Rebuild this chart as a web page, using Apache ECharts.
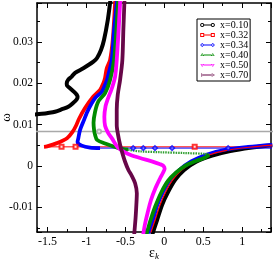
<!DOCTYPE html>
<html><head><meta charset="utf-8">
<script src="https://cdn.jsdelivr.net/npm/echarts@6/dist/echarts.min.js"></script>
<style>html,body{margin:0;padding:0;background:#fff}#c{width:275px;height:260px}</style>
</head><body><div id="c"></div>
<script>
const legendNames = ['x=0.10','x=0.32','x=0.34','x=0.40','x=0.50','x=0.70'];
const xTickRange = [-1.635, 1.37];
const yTickRange = [-0.016, 0.0394];

// x = 0.10
const x010Upper = [[-0.684,0.0414],[-0.697,0.0394],[-0.726,0.0353],[-0.774,0.0305],[-0.812,0.0281],[-0.864,0.0261],[-0.911,0.0252],[-1.040,0.0236],[-1.146,0.0225],[-1.189,0.0216],[-1.236,0.0208],[-1.253,0.0200],[-1.249,0.0194],[-1.211,0.0188],[-1.159,0.0179],[-1.125,0.0172],[-1.114,0.0167],[-1.125,0.0161],[-1.172,0.0152],[-1.233,0.0143],[-1.314,0.0137],[-1.404,0.0131],[-1.494,0.0128],[-1.574,0.0126],[-1.673,0.0124]];
const x010Lower = [[-0.157,-0.0169],[-0.144,-0.0160],[-0.093,-0.0131],[-0.028,-0.0094],[0.049,-0.0063],[0.139,-0.0034],[0.254,-0.0010],[0.409,0.0010],[0.614,0.0025],[0.846,0.0036],[1.103,0.0044],[1.386,0.0050]];
const x010Flat = [[-1.70,0.0083],[1.45,0.0083]];
const x010Marks = [[-0.838,0.0083]];

// x = 0.32
const x032Upper = [[-0.626,0.0414],[-0.632,0.0394],[-0.662,0.0305],[-0.697,0.0256],[-0.739,0.0236],[-0.761,0.0213],[-0.783,0.0200],[-0.825,0.0184],[-0.911,0.0168],[-1.018,0.0140],[-1.095,0.0114],[-1.134,0.0097],[-1.179,0.0082],[-1.249,0.0067],[-1.378,0.0055],[-1.506,0.0047],[-1.545,0.0046]];
const x032Flat = [[-1.545,0.0046],[1.45,0.0046]];
const x032Marks = [[-1.32,0.0046],[-1.14,0.0046],[0.39,0.0046]];
const x032Lower = [[-0.183,-0.0169],[-0.170,-0.0160],[-0.118,-0.0131],[-0.054,-0.0094],[0.017,-0.0063],[0.107,-0.0034],[0.222,-0.0010],[0.377,0.0010],[0.582,0.0027],[0.814,0.0038],[1.090,0.0045],[1.386,0.0050]];

// x = 0.34
const x034Upper = [[-0.607,0.0414],[-0.611,0.0394],[-0.645,0.0329],[-0.675,0.0256],[-0.710,0.0227],[-0.735,0.0208],[-0.752,0.0200],[-0.803,0.0179],[-0.889,0.0164],[-0.976,0.0136],[-1.040,0.0107],[-1.082,0.0087],[-1.104,0.0067],[-1.114,0.0058],[-1.060,0.0049],[-0.954,0.0044],[-0.825,0.0043]];
const x034Flat = [[-0.825,0.0043],[1.45,0.0043]];
const x034Marks = [[-0.40,0.0043],[-0.27,0.0043],[-0.12,0.0043],[0.10,0.0043],[0.82,0.0043]];
const x034Lower = [[-0.208,-0.0169],[-0.195,-0.0160],[-0.144,-0.0131],[-0.086,-0.0094],[-0.015,-0.0063],[0.075,-0.0034],[0.190,-0.0010],[0.344,0.0011],[0.550,0.0028],[0.781,0.0039],[1.077,0.0046],[1.386,0.0051]];

// x = 0.40
const x040Upper = [[-0.587,0.0414],[-0.594,0.0394],[-0.616,0.0329],[-0.645,0.0256],[-0.697,0.0208],[-0.761,0.0176],[-0.847,0.0156],[-0.889,0.0131],[-0.909,0.0104],[-0.902,0.0087],[-0.889,0.0075],[-0.864,0.0063],[-0.761,0.0054],[-0.671,0.0048],[-0.590,0.0043],[-0.465,0.0039]];
const x040Flat = [[-0.465,0.0039],[-0.311,0.0035],[-0.054,0.0033],[0.267,0.0031],[0.524,0.0029],[0.576,0.0027]];
const x040Lower = [[0.576,0.0027],[0.512,0.0019],[0.396,0.0011],[0.267,0.0],[0.152,-0.0016],[0.049,-0.0036],[-0.041,-0.0065],[-0.118,-0.0099],[-0.176,-0.0131],[-0.221,-0.0160],[-0.234,-0.0169]];

// x = 0.50
const x050Curve = [[-0.562,0.0414],[-0.568,0.0394],[-0.587,0.0329],[-0.611,0.0256],[-0.632,0.0216],[-0.671,0.0189],[-0.697,0.0176],[-0.729,0.0160],[-0.754,0.0145],[-0.770,0.0119],[-0.761,0.0097],[-0.722,0.0080],[-0.675,0.0067],[-0.590,0.0043],[-0.517,0.0034],[-0.440,0.0027],[-0.311,0.0019],[-0.161,0.0011],[-0.054,0.0004],[-0.012,0.0],[0.004,-0.0007],[-0.015,-0.0016],[-0.054,-0.0030],[-0.112,-0.0053],[-0.170,-0.0082],[-0.215,-0.0114],[-0.247,-0.0140],[-0.266,-0.0160],[-0.272,-0.0169]];

// x = 0.70
const x070Curve = [[-0.510,0.0414],[-0.513,0.0394],[-0.526,0.0329],[-0.539,0.0256],[-0.568,0.0208],[-0.598,0.0172],[-0.611,0.0136],[-0.611,0.0099],[-0.594,0.0075],[-0.568,0.0051],[-0.536,0.0029],[-0.504,0.0010],[-0.461,-0.0010],[-0.418,-0.0024],[-0.375,-0.0042],[-0.353,-0.0066],[-0.359,-0.0094],[-0.369,-0.0126],[-0.384,-0.0160],[-0.388,-0.0169]];

const C = {k:'#000000', r:'#ff0000', b:'#0000ff', g:'#008b00', m:'#ff00ff', p:'#670748', gray:'#a9a9a9'};
const SERIF = 'Liberation Serif';

function line(name, color, data, width, extra) {
  return Object.assign({
    type:'line', name, data, symbol:'none', showSymbol:false, smooth:0.3,
    lineStyle:{color, width}, itemStyle:{color}, animation:false, silent:true
  }, extra || {});
}
function marks(name, color, data, symbol) {
  return {type:'scatter', name, data, symbol, symbolSize:4, itemStyle:{color, borderColor:color, borderWidth:1}, animation:false, silent:true, z:4};
}

// legend icon builder: line with an open marker at each end
function pts(type, cx, cy, r) {
  let angs;
  if (type === 'circle') { angs = []; for (let i = 0; i < 12; i++) angs.push(i * 30); }
  else if (type === 'square') angs = [45,135,225,315];
  else if (type === 'diamond') angs = [0,90,180,270];
  else if (type === 'up') angs = [270,30,150];
  else if (type === 'down') angs = [90,210,330];
  else angs = [0,120,240];
  const rr = type === 'square' ? r * 1.35 : r;
  return angs.map(a => [cx + rr * Math.cos(a * Math.PI / 180), cy + rr * Math.sin(a * Math.PI / 180)]);
}
function poly(p) { return 'M' + p.map(q => q[0].toFixed(2) + ',' + q[1].toFixed(2)).join('L') + 'Z'; }
function ring(type, cx, cy) {
  const o = pts(type, cx, cy, 2.1), i = pts(type, cx, cy, 1.1).reverse();
  return poly(o) + poly(i);
}
function icon(type) {
  return 'path://M0,0L0,0ZM15,5L15,5Z' + ring(type, 2.2, 2.5) + 'M3.6,2.1L11.4,2.1L11.4,2.9L3.6,2.9Z' + ring(type, 12.8, 2.5);
}
const iconTypes = ['circle','square','diamond','up','down','right'];

const axisCommon = {
  type:'value', splitLine:{show:false},
  axisLine:{show:true, onZero:false, lineStyle:{color:'#000', width:1.5}},
  axisTick:{show:true, inside:true, length:5, lineStyle:{color:'#000', width:1}},
  minorTick:{show:true, splitNumber:2, length:3, lineStyle:{color:'#000', width:1}},
  splitNumber:5
};

const option = {
  animation:false,
  backgroundColor:'#fff',
  grid:{left:37, right:4, top:3, bottom:28, containLabel:false, outerBoundsMode:'none'},
  legend:{
    data: legendNames.map((n, i) => ({name:n, icon:icon(iconTypes[i])})),
    orient:'vertical', left:197, top:19, padding:[1,2,1,3], itemGap:0,
    itemWidth:15, itemHeight:5, itemTextGap:2, selectedMode:false,
    borderColor:'#000', borderWidth:1, backgroundColor:'#fff', borderRadius:0,
    textStyle:{fontFamily:SERIF, fontSize:10, color:'#000', lineHeight:10}
  },
  xAxis:[
    Object.assign({}, axisCommon, {position:'bottom', min:xTickRange[0], max:xTickRange[1],
      axisLabel:{showMinLabel:false, showMaxLabel:false, fontFamily:SERIF, fontSize:12, color:'#000', margin:4},
      name:'{e|ε}{k|k}', nameLocation:'middle', nameGap:14, nameMoveOverlap:false,
      nameTextStyle:{rich:{e:{fontFamily:SERIF, fontSize:14, color:'#000'}, k:{fontFamily:SERIF, fontSize:9, fontStyle:'italic', color:'#000', padding:[6,0,0,0]}}}
    }),
    Object.assign({}, axisCommon, {position:'top', min:xTickRange[0], max:xTickRange[1], axisLabel:{show:false}})
  ],
  yAxis:[
    Object.assign({}, axisCommon, {position:'left', min:yTickRange[0], max:yTickRange[1],
      axisLabel:{showMinLabel:false, showMaxLabel:false, fontFamily:SERIF, fontSize:11.5, color:'#000', margin:4},
      name:'ω', nameLocation:'middle', nameGap:24, nameRotate:90, nameMoveOverlap:false,
      nameTextStyle:{fontFamily:SERIF, fontSize:13, color:'#000'}
    }),
    Object.assign({}, axisCommon, {position:'right', min:yTickRange[0], max:yTickRange[1], axisLabel:{show:false}})
  ],
  series:[
    line('x=0.10', C.k, x010Upper, 4),
    line('x=0.10', C.gray, x010Flat, 1.5, {smooth:false, itemStyle:{color:C.gray}}),
    marks('x=0.10', C.gray, x010Marks, 'emptyCircle'),
    line('x=0.10', C.k, x010Lower, 4),
    line('x=0.32', C.r, x032Upper, 3.8),
    line('x=0.32', C.r, x032Flat, 1, {smooth:false}),
    marks('x=0.32', C.r, x032Marks, 'emptyRect'),
    line('x=0.34', C.b, x034Upper, 3.8),
    line('x=0.34', C.b, x034Flat, 1, {smooth:false}),
    marks('x=0.34', C.b, x034Marks, 'emptyDiamond'),
    line('x=0.34', C.b, x034Lower, 3.5),
    line('x=0.32', C.r, x032Lower, 1.2, {z:3}),
    line('x=0.40', C.g, x040Upper, 3.8),
    line('x=0.40', C.g, x040Flat, 2.2, {lineStyle:{color:'#2f9f2f', width:2.2, type:[1.5,1]}}),
    line('x=0.40', C.g, x040Lower, 3.8),
    line('x=0.50', C.m, x050Curve, 3.8),
    line('x=0.70', C.p, x070Curve, 3.8)
  ]
};
const chart = echarts.init(document.getElementById('c'), null, {renderer:'canvas'});
chart.setOption(option);
</script>
</body></html>
